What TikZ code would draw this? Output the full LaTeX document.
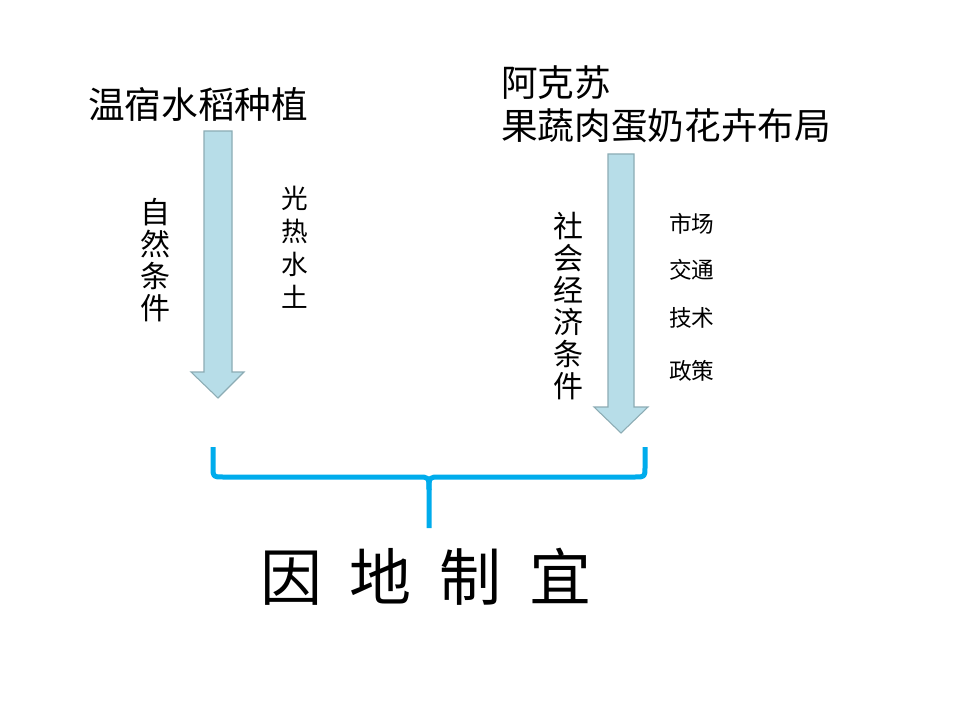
\documentclass[tikz,border=0pt]{standalone}
\usepackage{fontspec}
\newfontfamily\cjk{Noto Sans CJK SC}
\definecolor{arrowfill}{RGB}{183,221,232}
\definecolor{arrowline}{RGB}{140,172,180}
\definecolor{bracecol}{RGB}{0,172,236}
\tikzset{
  lbl/.style={inner sep=0pt, font=\cjk, text=black},
  title/.style={lbl, font=\cjk\fontsize{27.5}{32.25}\selectfont},
  vert/.style={lbl, align=center, font=\cjk\fontsize{22.5}{24}\selectfont},
  vertsmall/.style={lbl, align=center, font=\cjk\fontsize{20}{24.75}\selectfont},
  factor/.style={lbl, anchor=west, font=\cjk\fontsize{17}{20}\selectfont},
  bigarrow/.style={fill=arrowfill, draw=arrowline, line width=0.8pt, line join=miter},
  bracestyle/.style={draw=bracecol, line width=3.75pt, line cap=butt, line join=round}
}
\begin{document}
\begin{tikzpicture}[x=0.75pt,y=-0.75pt]
\useasboundingbox (0,0) rectangle (960,720);
\fill[white] (0,0) rectangle (960,720);

% titles
\node[title] (t1) at (198,104) {温宿水稻种植};
\node[title, anchor=west, align=left] (t2) at (501,104) {阿克苏\\果蔬肉蛋奶花卉布局};

% arrows
\path[bigarrow] (204,131) -- (232,131) -- (232,372) -- (244,372) -- (218,398)
  -- (191,372) -- (204,372) -- cycle;
\path[bigarrow] (608,154) -- (634,154) -- (634,407) -- (648,407) -- (621,433)
  -- (594,407) -- (608,407) -- cycle;

% side labels
\node[vert] (nat) at (155,260) {自\\然\\条\\件};
\node[vertsmall] (nat2) at (295,247) {光\\热\\水\\土};
\node[vert] (soc) at (568,306) {社\\会\\经\\济\\条\\件};
\node[factor] (f1) at (669,224) {市场};
\node[factor] (f2) at (669,270) {交通};
\node[factor] (f3) at (669,318) {技术};
\node[factor] (f4) at (669,371) {政策};

% brace
\coordinate (bl) at (213,447);
\coordinate (br) at (645,447);
\coordinate (bm) at (429,528);
\path[bracestyle] (bl) -- (213,467) .. controls (213,477) .. (223,477) -- (418,477)
  .. controls (429,477) .. (429,490) -- (bm);
\path[bracestyle] (br) -- (645,467) .. controls (645,477) .. (635,477) -- (440,477)
  .. controls (429,477) .. (429,490);

% conclusion
\node[lbl, font=\cjk\fontsize{46.5}{50}\selectfont] (res) at (426,577) {因\hspace{21pt}地\hspace{21pt}制\hspace{21pt}宜};
\end{tikzpicture}
\end{document}
